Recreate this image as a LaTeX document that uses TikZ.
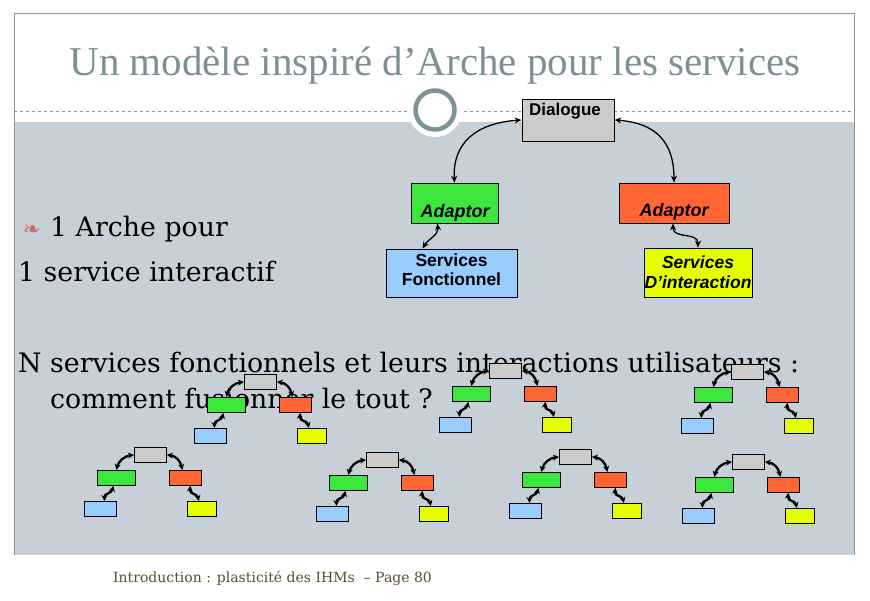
\documentclass[tikz,border=0pt]{standalone}
\usepackage{fontspec}
\usetikzlibrary{arrows.meta,calc}
\newfontfamily\titlefont{Liberation Serif}
\newfontfamily\bodyfont{DejaVu Serif}
\newfontfamily\boxfont{Liberation Sans}
\newfontfamily\symfont{DejaVu Sans}
\definecolor{bgc}{RGB}{200,208,215}
\definecolor{framec}{RGB}{140,150,155}
\definecolor{titlec}{RGB}{125,145,148}
\definecolor{ringc}{RGB}{125,148,150}
\definecolor{cgray}{RGB}{204,204,204}
\definecolor{cgreen}{RGB}{60,230,60}
\definecolor{cred}{RGB}{255,102,51}
\definecolor{cblue}{RGB}{153,204,255}
\definecolor{cyellow}{RGB}{230,255,0}
\definecolor{footc}{RGB}{90,80,45}
\definecolor{bulc}{RGB}{205,110,100}
\tikzset{
  bigbox/.style={draw, line width=0.8pt, inner sep=0pt},
  sbox/.style={draw, line width=0.8pt, inner sep=0pt, minimum height=15pt},
  btxt/.style={inner sep=0pt, align=center, font=\boxfont\bfseries\fontsize{17.5}{19}\selectfont},
  marr/.style={line width=1.3pt, <->, >={Stealth[length=7pt,width=6pt]}},
  sarr/.style={line width=2.3pt, <->, >={Stealth[length=6pt,width=6pt]}},
  body/.style={inner sep=0pt, anchor=base west, font=\bodyfont\fontsize{26.8}{30}\selectfont}
}
\newcommand\archtree[3]{%
  \node[sbox,fill=cgray,minimum width=32pt,anchor=north west] (#1g) at (#2,#3) {};
  \node[sbox,fill=cgreen,minimum width=38pt,anchor=north west] (#1a) at ({#2-37},{#3+23}) {};
  \node[sbox,fill=cred,minimum width=32pt,anchor=north west] (#1b) at ({#2+35},{#3+23}) {};
  \node[sbox,fill=cblue,minimum width=32pt,anchor=north west] (#1c) at ({#2-50},{#3+54}) {};
  \node[sbox,fill=cyellow,minimum width=29pt,anchor=north west] (#1d) at ({#2+53},{#3+54}) {};
  \draw[sarr] (#1g.west) .. controls ($(#1g.west)+(-9,1)$) and ($(#1a.north)+(2,-9)$) .. (#1a.north);
  \draw[sarr] (#1g.east) .. controls ($(#1g.east)+(9,1)$) and ($(#1b.north)+(-5,-9)$) .. ([xshift=-3pt]#1b.north);
  \draw[sarr] ([xshift=-3pt]#1a.south) .. controls ($(#1a.south)+(-5,8)$) and ($(#1c.north)+(4,-8)$) .. ([xshift=4pt]#1c.north);
  \draw[sarr] ([xshift=5pt]#1b.south) .. controls ($(#1b.south)+(4,9)$) and ($(#1d.north)+(-5,-8)$) .. ([xshift=-3pt]#1d.north);
}
\begin{document}
\begin{tikzpicture}[x=1pt,y=-1pt]
\useasboundingbox (0,0) rectangle (870,600);
\fill[white] (0,0) rectangle (870,600);
% background
\fill[bgc] (14,122) rectangle (854,555);
\draw[framec, line width=0.8pt] (14,555) -- (14,13) -- (854,13) -- (854,555);
\draw[framec, dashed, line width=0.6pt] (14,111) -- (854,111);
% ring
\fill[white] (435,110) circle (27);
\draw[ringc, line width=4.5pt] (435,110) circle (19.5);
% title
\node[inner sep=0pt, anchor=base, text=titlec, font=\titlefont\fontsize{41}{46}\selectfont] (title) at (435,75) {Un modèle inspiré d’Arche pour les services};
% main Arch
\node[bigbox, fill=cgray, minimum width=92pt, minimum height=42pt] (dlg) at (568,120) {};
\node[btxt, font=\boxfont\bfseries\fontsize{17}{19}\selectfont] (dlgt) at (565,111) {Dialogue};
\node[bigbox, fill=cgreen, minimum width=87pt, minimum height=40pt] (adL) at (454.5,203) {};
\node[btxt, font=\boxfont\bfseries\itshape\fontsize{18}{20}\selectfont] (adLt) at (455,213) {Adaptor};
\node[bigbox, fill=cred, minimum width=110pt, minimum height=40pt] (adR) at (674,203) {};
\node[btxt, font=\boxfont\bfseries\itshape\fontsize{18}{20}\selectfont] (adRt) at (674,212) {Adaptor};
\node[bigbox, fill=cblue, minimum width=131pt, minimum height=48pt] (sf) at (451.5,273) {};
\node[btxt] (sft) at (451.5,270) {Services\\Fonctionnel};
\node[bigbox, fill=cyellow, minimum width=108pt, minimum height=49pt] (si) at (698,272.5) {};
\node[btxt, font=\boxfont\bfseries\itshape\fontsize{17.5}{20}\selectfont] (sit) at (698,272) {Services\\D’interaction};
\draw[marr] (dlg.west) .. controls ($(dlg.west)+(-45,3)$) and ($(adL.north)+(-2,-40)$) .. (adL.north);
\draw[marr] (dlg.east) .. controls ($(dlg.east)+(42,3)$) and ($(adR.north)+(0,-40)$) .. (adR.north);
\draw[marr] ([xshift=-17pt]adL.south) .. controls ($([xshift=-17pt]adL.south)+(1,12)$) and ($([xshift=-29pt]sf.north)+(6,-10)$) .. ([xshift=-29pt]sf.north);
\draw[marr] ([xshift=-1pt]adR.south) .. controls ($([xshift=-1pt]adR.south)+(0,16)$) and ($(si.north)+(0,-16)$) .. (si.north);
% texts
\node[inner sep=0pt, anchor=base west, text=bulc, font=\symfont\fontsize{21}{23}\selectfont] (bul) at (23,236) {❧};
\node[body] (t1) at (50,236) {1 Arche pour};
\node[body] (t2) at (18,281) {1 service interactif};
\node[body] (t3) at (18,372) {N services fonctionnels et leurs interactions utilisateurs :};
\node[body] (t4) at (50,408) {comment fusionner le tout ?};
\node[inner sep=0pt, anchor=base west, text=footc, font=\bodyfont\fontsize{14}{16}\selectfont] (foot) at (113,582) {Introduction : plasticité des IHMs \ – Page 80};
% small trees
\archtree{A}{244}{374}
\archtree{B}{489}{363}
\archtree{C}{731}{364}
\archtree{D}{134}{447}
\archtree{E}{366}{452}
\archtree{F}{559}{449}
\archtree{G}{732}{454}
\end{tikzpicture}
\end{document}
